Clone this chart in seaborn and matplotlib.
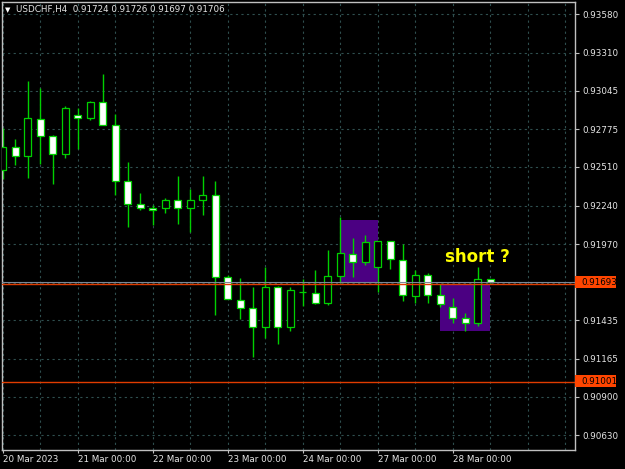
import matplotlib
matplotlib.use("Agg")
import matplotlib.pyplot as plt
import matplotlib.transforms as mtransforms
from matplotlib.patches import Rectangle
import pandas as pd
import seaborn as sns

# USDCHF H4 candles, 20 Mar 00:00 -> 28 Mar 12:00
opens = [0.92492, 0.92652, 0.92590, 0.92848, 0.92729, 0.92604, 0.92876, 0.92855,
         0.92967, 0.92806, 0.92415, 0.92254, 0.92226, 0.92226, 0.92282, 0.92226,
         0.92282, 0.92317, 0.91737, 0.91576, 0.91520, 0.91387, 0.91667, 0.91387,
         0.91632, 0.91625, 0.91555, 0.91744, 0.91898, 0.91842, 0.91807, 0.91988,
         0.91856, 0.91604, 0.91751, 0.91611, 0.91527, 0.91450, 0.91415, 0.91724]
highs = [0.92785, 0.92708, 0.93114, 0.93065, 0.92731, 0.92939, 0.92925, 0.92974,
         0.93163, 0.92883, 0.92548, 0.92331, 0.92247, 0.92296, 0.92450, 0.92359,
         0.92450, 0.92415, 0.91751, 0.91730, 0.91667, 0.91807, 0.91674, 0.91667,
         0.91723, 0.91786, 0.91926, 0.92163, 0.92009, 0.92030, 0.91990, 0.91990,
         0.91967, 0.91786, 0.91765, 0.91688, 0.91590, 0.91485, 0.91807, 0.91726]
lows = [0.92429, 0.92527, 0.92436, 0.92534, 0.92394, 0.92576, 0.92638, 0.92841,
        0.92804, 0.92317, 0.92086, 0.92212, 0.92107, 0.92191, 0.92114, 0.92051,
        0.92177, 0.91471, 0.91583, 0.91443, 0.91178, 0.91310, 0.91268, 0.91359,
        0.91534, 0.91553, 0.91541, 0.91695, 0.91737, 0.91821, 0.91632, 0.91793,
        0.91569, 0.91555, 0.91555, 0.91527, 0.91415, 0.91359, 0.91394, 0.91697]
closes = [0.92652, 0.92590, 0.92855, 0.92729, 0.92604, 0.92925, 0.92855, 0.92967,
          0.92806, 0.92415, 0.92254, 0.92226, 0.92212, 0.92282, 0.92226, 0.92282,
          0.92317, 0.91737, 0.91583, 0.91520, 0.91387, 0.91667, 0.91387, 0.91646,
          0.91634, 0.91555, 0.91744, 0.91905, 0.91842, 0.91981, 0.91988, 0.91863,
          0.91611, 0.91751, 0.91611, 0.91548, 0.91450, 0.91415, 0.91724, 0.91706]

price_ticks = [0.93580, 0.93310, 0.93045, 0.92775, 0.92510, 0.92240, 0.91970,
               0.91435, 0.91165, 0.90900, 0.90630]
hidden_ticks = [0.91700]
date_bars = [0, 6, 12, 18, 24, 30, 36]
date_labels = ["20 Mar 2023", "21 Mar 00:00", "22 Mar 00:00", "23 Mar 00:00",
               "24 Mar 00:00", "27 Mar 00:00", "28 Mar 00:00"]

levels = [0.91693, 0.91001]
bid = 0.91706
# zones: (first bar, last bar, low, high)
zone_start = [27, 35]
zone_end = [30, 39]
zone_low = [0.91700, 0.91361]
zone_high = [0.92140, 0.91687]

df = pd.DataFrame({"open": opens, "high": highs, "low": lows, "close": closes})
df["bar"] = range(len(df))
df["bull"] = df["close"] > df["open"]

sns.set_theme(style="dark", rc={
    "axes.facecolor": "black",
    "figure.facecolor": "black",
    "axes.edgecolor": "#c0c0c0",
    "text.color": "#e6e6e6",
    "xtick.color": "#e6e6e6",
    "ytick.color": "#e6e6e6",
    "axes.grid": True,
    "grid.color": "#2f4f4f",
})
plt.rcParams["font.family"] = ["DejaVu Sans"]

green = "#00d000"
fig = plt.figure(figsize=(6.25, 4.69), dpi=100)
ax = fig.add_axes([2 / 625, 19 / 469, 573 / 625, 448 / 469])

ax.set_axisbelow(True)
ax.grid(True, which="both", color="#2f4f4f", linestyle=(0, (2, 3)), linewidth=0.8)

for i in range(len(zone_start)):
    ax.add_patch(Rectangle((zone_start[i], zone_low[i]), zone_end[i] - zone_start[i],
                           zone_high[i] - zone_low[i], facecolor="#4b0082",
                           edgecolor="none", zorder=1))

ax.vlines(df["bar"], df["low"], df["high"], color=green, linewidth=1, zorder=2)
body_low = df[["open", "close"]].min(axis=1)
body_h = (df["close"] - df["open"]).abs().clip(lower=0.00001)
faces = ["black" if b else "white" for b in df["bull"]]
ax.bar(df["bar"], body_h, bottom=body_low, width=0.58, color=faces,
       edgecolor=green, linewidth=0.9, zorder=3)

ax.axhline(bid, color="#778899", linewidth=0.8, zorder=4)
for lv in levels:
    ax.axhline(lv, color="#e03c00", linewidth=1, zorder=4)

ax.text(35.4, 0.91877, "short ?", color="#ffff00", fontsize=12, fontweight="bold",
        va="center", ha="left", zorder=5)

ax.set_xlim(-0.064, 45.78)
ax.set_ylim(0.90527, 0.93666)

ax.set_xticks(date_bars)
ax.set_xticklabels(date_labels, ha="left")
ax.set_xticks([b for b in range(3, 46, 3) if b not in date_bars], minor=True)
ax.set_yticks(price_ticks)
ax.set_yticklabels([f"{p:.5f}" for p in price_ticks])
ax.set_yticks(hidden_ticks, minor=True)
ax.yaxis.tick_right()
ax.tick_params(axis="x", which="major", length=2.5, width=0.8, pad=1,
               labelsize=6.3, colors="#e6e6e6", color="#c0c0c0", bottom=True)
ax.tick_params(axis="y", which="major", length=3, width=0.8, pad=2,
               labelsize=6.3, colors="#e6e6e6", color="#c0c0c0", right=True)
ax.tick_params(which="minor", length=0)
ax.set_xlabel("")
ax.set_ylabel("")
for s in ax.spines.values():
    s.set_color("#c0c0c0")
    s.set_linewidth(1)

# price labels on the right axis
trans = mtransforms.blended_transform_factory(ax.transAxes, ax.transData)
half = 6 * (0.93666 - 0.90527) / 448
box_w = 41 / 573
ax.add_patch(Rectangle((1.0, bid - half), box_w, 2 * half, facecolor="white",
                       edgecolor="none", transform=trans, clip_on=False, zorder=6))
for lv in levels:
    ax.add_patch(Rectangle((1.0, lv - half + 0.00008), box_w, 2 * half,
                           facecolor="#ff4500", edgecolor="none",
                           transform=trans, clip_on=False, zorder=7))
    ax.text(1.0 + 6 / 573, lv + 0.00008, f"{lv:.5f}", transform=trans, color="black",
            fontsize=6.3, va="center", ha="left", zorder=8, clip_on=False)

fig.text(5 / 625, 1 - 10 / 469, "\u25bc", color="white", fontsize=5, va="center")
fig.text(16 / 625, 1 - 9.5 / 469, "USDCHF,H4  0.91724 0.91726 0.91697 0.91706",
         color="#e6e6e6", fontsize=6.3, va="center", ha="left")

fig.savefig("out.png", dpi=100, facecolor="black")
